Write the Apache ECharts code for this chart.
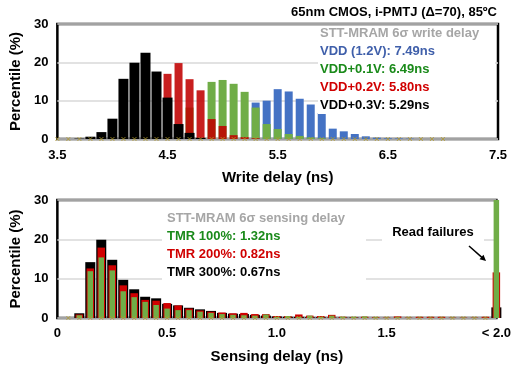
<!DOCTYPE html>
<html>
<head>
<meta charset="utf-8">
<script src="https://cdn.jsdelivr.net/npm/echarts@6/dist/echarts.min.js"></script>
<style>
  html, body { margin: 0; padding: 0; background: #fff; }
  #chart { width: 514px; height: 370px; }
</style>
</head>
<body>
<div id="chart"></div>
<script>
// write delay histogram (ns bins, % per bin)
const writeBins = [3.7, 3.8, 3.9, 4.0, 4.1, 4.2, 4.3, 4.4, 4.5, 4.6, 4.7, 4.8, 4.9, 5.0, 5.1, 5.2,
  5.3, 5.4, 5.5, 5.6, 5.7, 5.8, 5.9, 6.0, 6.1, 6.2, 6.3, 6.4, 6.5, 6.6, 6.7];
const vdd   = [0, 0, 0, 0, 0, 0, 0, 0, 0, 0, 0, 0, 0, 0, 0, 0,
  9.5, 10.0, 13.0, 12.4, 10.5, 9.0, 6.8, 2.7, 2.0, 1.3, 0.7, 0.35, 0.2, 0.15, 0.1];
const vdd01 = [0, 0, 0, 0, 0, 0, 0, 0, 0, 0, 8.2, 0, 14.9, 15.4, 14.4, 12.3,
  8.2, 3.9, 2.6, 1.3, 0.8, 0.4, 0.2, 0, 0, 0, 0, 0, 0, 0, 0];
const vdd02 = [0, 0, 0, 0, 0, 0, 0, 0, 17.0, 19.8, 15.6, 12.7, 5.2, 3.4, 1.0, 0.5,
  0.2, 0, 0, 0, 0, 0, 0, 0, 0, 0, 0, 0, 0, 0, 0];
const vdd03 = [0.1, 0.6, 1.8, 5.3, 15.7, 19.9, 22.5, 17.6, 10.8, 3.9, 1.6, 0.3, 0, 0, 0, 0,
  0, 0, 0, 0, 0, 0, 0, 0, 0, 0, 0, 0, 0, 0, 0];
const writeMarks = [3.5, 3.6, 3.7, 3.8, 3.9, 4.0, 4.1, 4.2, 4.3, 4.4, 4.5, 4.6, 4.7, 4.8, 4.9, 5.0,
  5.1, 5.2, 5.3, 5.4, 5.5, 5.6, 5.7, 5.8, 5.9, 6.0, 6.1, 6.2, 6.3, 6.4, 6.5, 6.6, 6.7, 6.8, 6.9, 7.0];

// sensing delay histogram
const senseBins = [0.1, 0.15, 0.2, 0.25, 0.3, 0.35, 0.4, 0.45, 0.5, 0.55, 0.6, 0.65, 0.7, 0.75,
  0.8, 0.85, 0.9, 0.95, 1.0, 1.05, 1.1, 1.15, 1.2, 1.25, 1.3, 1.35, 1.4, 1.45, 1.5, 1.55, 1.6,
  1.65, 1.7, 1.75, 1.8, 1.85, 1.9, 1.95, 2.0];
const tmr300 = [1.2, 14.2, 19.9, 14.8, 9.7, 7.3, 5.4, 5.0, 3.6, 3.2, 2.6, 2.2, 1.8, 1.3,
  1.1, 1.0, 0.8, 0.6, 0.4, 0.3, 0.3, 0.2, 0.2, 0.1, 0.1, 0.1, 0, 0, 0, 0, 0,
  0, 0, 0, 0, 0, 0, 0, 2.7];
const tmr200 = [0.9, 12.6, 17.9, 13.4, 8.3, 6.3, 4.6, 4.4, 3.8, 3.2, 2.4, 1.9, 1.6, 1.4,
  1.2, 1.3, 1.0, 1.0, 0.5, 0.5, 0.9, 0.6, 0.5, 0.8, 0.3, 0.2, 0.3, 0.2, 0.1, 0.4, 0.1,
  0.3, 0.3, 0.3, 0.1, 0.1, 0.1, 0.3, 11.6];
const tmr100 = [0.7, 11.9, 15.4, 12.1, 6.8, 5.3, 4.1, 3.3, 2.4, 2.0, 2.0, 1.6, 1.3, 1.0,
  0.8, 0.7, 0.6, 0.9, 0.3, 0.5, 0.3, 0.6, 0.3, 0.6, 0.3, 0.3, 0.4, 0.2, 0.1, 0.2, 0.1,
  0.1, 0.1, 0.1, 0.1, 0.1, 0.1, 0.1, 30];
const senseMarks = [0.05, 0.1, 0.15, 0.2, 0.25, 0.3, 0.35, 0.4, 0.45, 0.5, 0.55, 0.6, 0.65, 0.7,
  0.75, 0.8, 0.85, 0.9, 0.95, 1.0, 1.05, 1.1, 1.15, 1.2, 1.25, 1.3, 1.35, 1.4, 1.45, 1.5, 1.55,
  1.6, 1.65, 1.7, 1.75, 1.8, 1.85, 1.9, 1.95];

const yTicks = [0, 10, 20, 30];

const FONT = '"Liberation Sans", Arial, sans-serif';
const chart = echarts.init(document.getElementById('chart'));

const pair = (xs, ys) => xs.map((x, i) => [x, ys[i]]);

function xAxis(grid, min, max, show, extra) {
  return Object.assign({
    type: 'value', gridIndex: grid, min: min, max: max, show: show,
    axisLine: { show: false }, axisTick: { show: false }, splitLine: { show: false }
  }, extra || {});
}
function yAxis(grid) {
  return {
    type: 'value', gridIndex: grid, min: yTicks[0], max: yTicks[yTicks.length - 1], interval: 10,
    axisLine: { show: false }, axisTick: { show: false },
    splitLine: { lineStyle: { color: '#d9d9d9', width: 1.5 } },
    axisLabel: { color: '#000', fontFamily: FONT, fontWeight: 'bold', fontSize: 13, margin: 9 },
    name: 'Percentile (%)', nameLocation: 'middle', nameRotate: 90, nameGap: 30,
    nameTextStyle: { color: '#000', fontFamily: FONT, fontWeight: 'bold', fontSize: 15 }
  };
}
const axisName = { color: '#000', fontFamily: FONT, fontWeight: 'bold', fontSize: 15 };
const tickLabel = { color: '#000', fontFamily: FONT, fontWeight: 'bold', fontSize: 13 };

function bars(name, xi, yi, xs, ys, color, width, extra) {
  return Object.assign({
    name: name, type: 'bar', xAxisIndex: xi, yAxisIndex: yi,
    data: pair(xs, ys), barWidth: width, itemStyle: { color: color }, silent: true
  }, extra || {});
}
function marks(xi, yi, xs) {
  return {
    type: 'scatter', xAxisIndex: xi, yAxisIndex: yi, silent: true, z: 3,
    symbol: 'path://M0,0L10,10M10,0L0,10', symbolSize: 4,
    itemStyle: { color: 'transparent', borderColor: '#b09a30', borderWidth: 1 },
    data: xs.map(x => [x, 0])
  };
}
function text(x, y, str, color, align) {
  return {
    type: 'text', x: x, y: y, zlevel: 1, z: 20,
    style: { text: str, fill: color, font: 'bold 13px ' + FONT, textAlign: align || 'left', textVerticalAlign: 'middle' }
  };
}
// white panels that hide the gridlines behind the legends
function panel(x, y, w, h) {
  return { type: 'rect', zlevel: 1, z: 10, silent: true, shape: { x: x, y: y, width: w, height: h }, style: { fill: '#fff' } };
}

const option = {
  animation: false,
  backgroundColor: '#fff',
  grid: [
    { left: 52, top: 24, width: 446, height: 115, show: true, borderColor: '#000', borderWidth: 2.5 },
    { left: 52, top: 200, width: 446, height: 118, show: true, borderColor: '#000', borderWidth: 2.5 }
  ],
  xAxis: [
    xAxis(0, 3.5, 7.5, true, {
      interval: 1,
      axisLabel: Object.assign({ margin: 10, formatter: v => v.toFixed(1) }, tickLabel),
      name: 'Write delay (ns)', nameLocation: 'middle', nameGap: 31, nameTextStyle: axisName
    }),
    xAxis(0, 3.5, 7.5, false),
    xAxis(0, 3.5, 7.5, false),
    xAxis(0, 3.5, 7.5, false),
    xAxis(1, 0, 2, true, {
      interval: 0.5,
      axisLabel: Object.assign({ margin: 9, formatter: v => v === 0 ? '0' : (v === 2 ? '< 2.0' : v.toFixed(1)) }, tickLabel),
      name: 'Sensing delay (ns)', nameLocation: 'middle', nameGap: 31, nameTextStyle: axisName
    }),
    xAxis(1, 0, 2, false),
    xAxis(1, 0, 2, false)
  ],
  yAxis: [yAxis(0), yAxis(1)],
  series: [
    bars('VDD (1.2V)', 0, 0, writeBins, vdd, '#4472c4', 8),
    bars('VDD+0.1V', 1, 0, writeBins, vdd01, '#70ad47', 8),
    bars('VDD+0.2V', 2, 0, writeBins, vdd02, 'rgba(192,0,0,0.88)', 8),
    bars('VDD+0.3V', 3, 0, writeBins, vdd03, '#000', 10),
    marks(0, 0, writeMarks),
    bars('TMR 300%', 4, 1, senseBins, tmr300, '#000', 10, { clip: false }),
    bars('TMR 200%', 5, 1, senseBins, tmr200, '#d00000', 7.5, { clip: false }),
    bars('TMR 100%', 6, 1, senseBins, tmr100, '#70ad47', 5.5, { clip: false }),
    marks(4, 1, senseMarks)
  ],
  graphic: [
    panel(318, 26, 177, 88),
    panel(162, 207, 204, 77),
    panel(382, 222, 102, 28),
    text(497, 12, '65nm CMOS, i-PMTJ (Δ=70), 85ºC', '#000', 'right'),
    text(320, 33, 'STT-MRAM 6σ write delay', '#a6a6a6'),
    text(320, 51, 'VDD (1.2V): 7.49ns', '#3f5faa'),
    text(320, 69, 'VDD+0.1V: 6.49ns', '#1a8a1a'),
    text(320, 87, 'VDD+0.2V: 5.80ns', '#d00000'),
    text(320, 105, 'VDD+0.3V: 5.29ns', '#000'),
    text(167, 218, 'STT-MRAM 6σ sensing delay', '#a6a6a6'),
    text(167, 236, 'TMR 100%: 1.32ns', '#1a8a1a'),
    text(167, 254, 'TMR 200%: 0.82ns', '#d00000'),
    text(167, 272, 'TMR 300%: 0.67ns', '#000'),
    text(433, 232, 'Read failures', '#000', 'center'),
    { type: 'line', zlevel: 1, z: 20, shape: { x1: 469, y1: 246, x2: 483, y2: 258.4 }, style: { stroke: '#000', lineWidth: 1.5 } },
    { type: 'polygon', zlevel: 1, z: 20, shape: { points: [[486, 261], [479.5, 259.3], [483.5, 254.7]] }, style: { fill: '#000' } }
  ]
};

chart.setOption(option);
</script>
</body>
</html>
